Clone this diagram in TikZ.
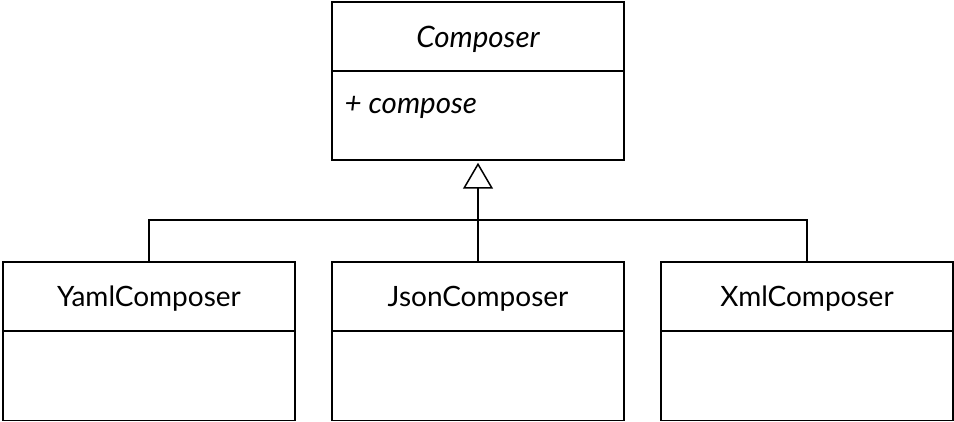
\documentclass[tikz,border=0pt]{standalone}
\usepackage{fontspec}
\setmainfont{Lato}
\usetikzlibrary{arrows.meta}
\tikzset{
  head/.style={draw, line width=1.5pt, minimum width=292pt, minimum height=69pt, inner sep=0pt, text depth=0pt, font=\fontsize{28}{32}\selectfont},
  body/.style={draw, line width=1.5pt, minimum width=292pt, minimum height=89pt, inner sep=0pt},
  inherit/.style={line width=1.5pt, -{Triangle[open, length=26pt, width=30pt]}}
}
\begin{document}
\begin{tikzpicture}[x=1pt, y=1pt]
\useasboundingbox (0,0) rectangle (954,422);
% base class
\node[head] (composer) at (478,385.5) {\fontsize{29.5}{32}\selectfont\itshape Composer};
\node[body] (composerb) at (478,306.5) {};
\node[anchor=west, font=\fontsize{29.5}{32}\selectfont\itshape] (compose) at (341,315) {+ compose};
% subclasses
\node[head] (yaml) at (149,125.5) {YamlComposer};
\node[body] (yamlb) at (149,46) {};
\node[head] (json) at (478,125.5) {JsonComposer};
\node[body] (jsonb) at (478,46) {};
\node[head] (xml) at (807,125.5) {XmlComposer};
\node[body] (xmlb) at (807,46) {};
% generalisation
\coordinate (join) at (478,202);
\draw[line width=1.5pt] (yaml.north) |- (join) -| (xml.north);
\draw[inherit] (json.north) -- ([yshift=-2pt]composerb.south);
\end{tikzpicture}
\end{document}
